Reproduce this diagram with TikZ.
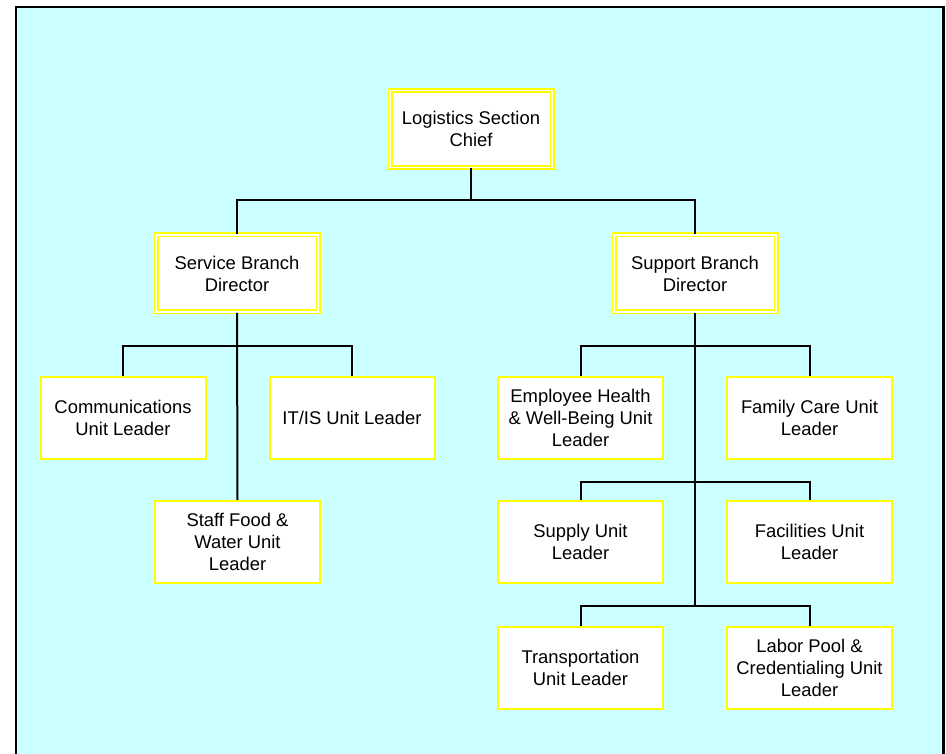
\documentclass[tikz,border=0pt]{standalone}
\usepackage{fontspec}
\setmainfont{Liberation Sans}
\definecolor{panelcyan}{RGB}{204,255,255}
\definecolor{boxyellow}{RGB}{255,255,0}
\tikzset{
  headbox/.style={draw=boxyellow, double=white, double distance=1.5pt, line width=1.75pt,
    fill=white, minimum width=162pt, minimum height=77pt, inner sep=0pt, align=center,
    font=\fontsize{18.4}{22}\selectfont},
  unitbox/.style={draw=boxyellow, line width=2pt, fill=white,
    minimum width=165pt, minimum height=82pt, inner sep=0pt, align=center,
    font=\fontsize{18.4}{22}\selectfont},
  link/.style={draw=black, line width=2pt}
}
\begin{document}
\begin{tikzpicture}[x=1pt,y=-1pt]
\useasboundingbox (0,0) rectangle (946,754);
\clip (0,0) rectangle (946,754);
% panel
\draw[line width=2.5pt, fill=panelcyan] (16,7) rectangle (943.3,800);

% section chief and branch directors
\node[headbox] (chief)   at (471,129)   {Logistics Section\\Chief};
\node[headbox] (service) at (237,273.5) {Service Branch\\Director};
\node[headbox] (support) at (695,273.5) {Support Branch\\Director};

% service branch units
\node[unitbox] (comm)  at (123,418)   {Communications\\Unit Leader};
\node[unitbox] (itis)  at (352,418)   {IT/IS Unit Leader};
\node[unitbox] (staff) at (237.5,542) {Staff Food \&\\Water Unit\\Leader};

% support branch units
\node[unitbox] (health) at (580.5,418) {Employee Health\\\& Well-Being Unit\\Leader};
\node[unitbox] (family) at (809.5,418) {Family Care Unit\\Leader};
\node[unitbox] (supply) at (580.5,542) {Supply Unit\\Leader};
\node[unitbox] (facil)  at (809.5,542) {Facilities Unit\\Leader};
\node[unitbox] (transp) at (580.5,668) {Transportation\\Unit Leader};
\node[unitbox] (labor)  at (809.5,668) {Labor Pool \&\\Credentialing Unit\\Leader};

% junction points
\coordinate (cj) at (471,200);
\coordinate (sj) at (237,346);
\coordinate (pj1) at (695,346);
\coordinate (pj2) at (695,482);
\coordinate (pj3) at (695,606);

% connectors
\draw[link] (chief.south) -- (cj);
\draw[link] (service.north) |- (cj) -| (support.north);

\draw[link] (service.south) -- (staff.north);
\draw[link] (comm.north) |- (sj) -| (itis.north);

\draw[link] (support.south) -- (pj3);
\draw[link] (health.north) |- (pj1) -| (family.north);
\draw[link] (supply.north) |- (pj2) -| (facil.north);
\draw[link] (transp.north) |- (pj3) -| (labor.north);
\end{tikzpicture}
\end{document}
